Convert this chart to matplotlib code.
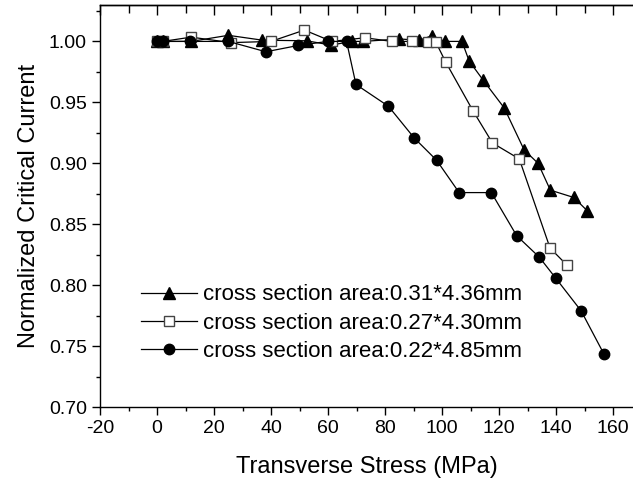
import matplotlib
matplotlib.use("Agg")
import matplotlib.pyplot as plt
from matplotlib.ticker import MultipleLocator

plt.rcParams["font.family"] = ["Liberation Sans", "DejaVu Sans"]
plt.rcParams["axes.unicode_minus"] = False

# ── Datos ─────────────────────────────────────────────────────────────────────
x_031 = [0, 2, 12, 25, 37, 52.5, 61, 68.5, 72.4, 85, 92, 96.4, 101, 107,
         109.5, 114.5, 121.8, 128.8, 133.7, 138, 146.2, 151]
y_031 = [1.0, 1.0, 1.0, 1.005, 1.001, 1.0005, 0.997, 1.0, 1.0, 1.002, 1.001,
         1.0046, 1.0, 1.0, 0.984, 0.968, 0.9455, 0.911, 0.900, 0.878, 0.872, 0.861]

x_027 = [0, 2, 12, 26, 40, 51.7, 61.3, 73, 82.3, 89.4, 95.2, 97.8, 101.3,
         110.8, 117.7, 127.1, 137.9, 143.7]
y_027 = [1.0, 1.0, 1.0035, 0.999, 1.0, 1.0093, 1.0, 1.003, 1.0, 1.0, 0.9995,
         0.9995, 0.983, 0.9433, 0.9167, 0.9036, 0.8305, 0.8168]

x_022 = [0, 2, 11.5, 25, 38.2, 49.6, 59.9, 66.5, 69.8, 81.2, 90.2, 98.1, 106,
         117.3, 126.2, 134.1, 139.9, 148.8, 156.8]
y_022 = [1.0, 1.0, 1.0, 1.0, 0.9915, 0.9967, 1.0, 1.0, 0.9647, 0.9468, 0.9209,
         0.9025, 0.876, 0.876, 0.8406, 0.8231, 0.8058, 0.779, 0.7436]

labels = ["cross section area:0.31*4.36mm",
          "cross section area:0.27*4.30mm",
          "cross section area:0.22*4.85mm"]

# ── Figura ────────────────────────────────────────────────────────────────────
fig = plt.figure(figsize=(6.33, 4.83), dpi=100)
ax = fig.add_axes([0.158, 0.157, 0.842, 0.833])

ax.plot(x_031, y_031, color="black", lw=0.9, marker="^", ms=8.5,
        mfc="black", mec="black", label=labels[0])
ax.plot(x_027, y_027, color="black", lw=0.9, marker="s", ms=6.5,
        mfc="white", mec="#444444", mew=1.0, label=labels[1])
ax.plot(x_022, y_022, color="black", lw=0.9, marker="o", ms=7.5,
        mfc="black", mec="black", label=labels[2])

ax.set_xlim(-20, 167)
ax.set_ylim(0.70, 1.03)
ax.xaxis.set_major_locator(MultipleLocator(20))
ax.xaxis.set_minor_locator(MultipleLocator(10))
ax.yaxis.set_major_locator(MultipleLocator(0.05))
ax.yaxis.set_minor_locator(MultipleLocator(0.025))
ax.yaxis.set_major_formatter(plt.FormatStrFormatter("%.2f"))

ax.spines["right"].set_visible(False)
for s in ["left", "bottom", "top"]:
    ax.spines[s].set_linewidth(1.0)

ax.tick_params(axis="both", which="major", direction="out", length=6,
               width=1.0, labelsize=14, colors="black")
ax.tick_params(axis="both", which="minor", direction="out", length=3, width=1.0)
ax.xaxis.set_tick_params(which="both", pad=3)

# Ticks del eje superior hacia dentro (eje secundario sin etiquetas)
axt = ax.secondary_xaxis("top")
axt.xaxis.set_major_locator(MultipleLocator(20))
axt.xaxis.set_minor_locator(MultipleLocator(10))
axt.tick_params(axis="x", which="major", direction="in", length=7, width=1.0,
                labeltop=False)
axt.tick_params(axis="x", which="minor", direction="in", length=6, width=1.0)
axt.spines["top"].set_linewidth(1.0)

ax.set_xlabel("Transverse Stress (MPa)", fontsize=17, labelpad=14)
ax.set_ylabel("Normalized Critical Current", fontsize=17, labelpad=6)

leg = ax.legend(loc="upper left", bbox_to_anchor=(0.077, 0.305), frameon=False,
                fontsize=16, handlelength=2.5, handletextpad=0.3,
                labelspacing=0.33, borderpad=0, borderaxespad=0)

fig.savefig("out.png", dpi=100)
